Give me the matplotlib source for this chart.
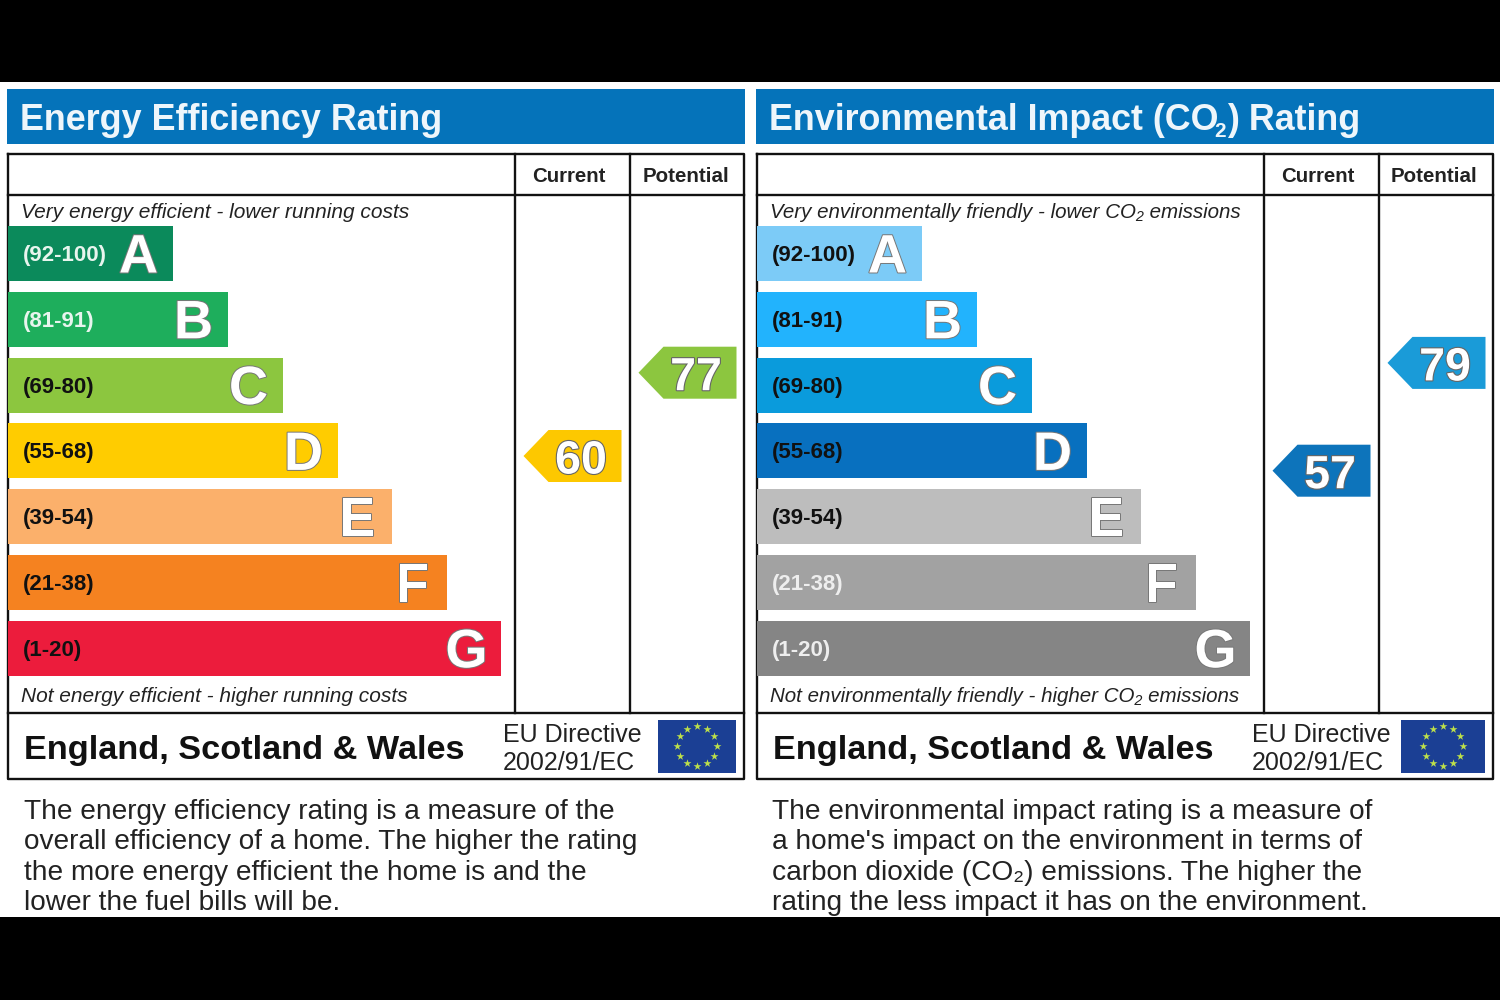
import matplotlib
matplotlib.use("Agg")
import matplotlib.pyplot as plt
import matplotlib.patheffects as pe
import numpy as np

plt.rcParams['font.family'] = ['Liberation Sans', 'DejaVu Sans']

# The values
band_letters = ['A', 'B', 'C', 'D', 'E', 'F', 'G']
band_ranges = ['(92-100)', '(81-91)', '(69-80)', '(55-68)', '(39-54)', '(21-38)', '(1-20)']
band_lengths = [165, 220, 275, 330, 384, 439, 493]

energy_colors = ['#0b8a5b', '#1eae5c', '#8cc63f', '#ffcc00', '#fbb06b', '#f58220', '#ec1c3c']
energy_range_colors = ['#e8f5ee', '#e8f5ee', '#111111', '#111111', '#111111', '#111111', '#111111']
impact_colors = ['#7ccbf7', '#22b3fd', '#0a9bdc', '#0870bf', '#bdbdbd', '#a2a2a2', '#858585']
impact_range_colors = ['#111111', '#111111', '#111111', '#111111', '#111111', '#eeeeee', '#eeeeee']

energy_current, energy_potential = 60, 77
impact_current, impact_potential = 57, 79
energy_current_color, energy_potential_color = '#fdc800', '#8cc63f'
impact_current_color, impact_potential_color = '#0d74bb', '#1a9bd8'

# the impact title is split so the small 2 can tuck in as it does on the label
energy_title = ['Energy Efficiency Rating']
impact_title = ['Environmental Impact (CO', '2', ') Rating']
energy_top = 'Very energy efficient - lower running costs'
energy_bottom = 'Not energy efficient - higher running costs'
impact_top = 'Very environmentally friendly - lower CO\u2082 emissions'
impact_bottom = 'Not environmentally friendly - higher CO\u2082 emissions'
energy_body = ['The energy efficiency rating is a measure of the',
               'overall efficiency of a home. The higher the rating',
               'the more energy efficient the home is and the',
               'lower the fuel bills will be.']
impact_body = ['The environmental impact rating is a measure of',
               "a home's impact on the environment in terms of",
               'carbon dioxide (CO\u2082) emissions. The higher the',
               'rating the less impact it has on the environment.']


def draw_arrow(ax, left, right, rating, color):
    # Rating arrow, the height on the panel comes from the rating itself
    y = 750 - 4.9 * rating
    xs = [left, left + 25, right, right, left + 25]
    ys = [y, y - 26, y - 26, y + 26, y + 26]
    ax.fill(xs, ys, color=color, lw=0, zorder=3)
    ax.text((left + 25 + right) / 2 - 4, y + 5.5, str(rating), color='white', fontsize=33.5,
            fontweight='bold', ha='center', va='center', zorder=4,
            path_effects=[pe.withStroke(linewidth=1.6, foreground='#666666')])


def draw_panel(ax, x0, title, top_text, bottom_text, note_size, colors, range_colors, current, potential,
               current_color, potential_color, body, body_x, flag_x, flag_w, directive_x):
    # x0 is the left edge of the panel box
    ax.fill_between([x0 - 1, x0 + 737], 89, 144, color='#0573ba', lw=0)
    ax.text(x0 + 12.5, 130, title[0], color='#eef6fb', fontsize=25.8, fontweight='bold', va='baseline')
    if len(title) > 1:
        ax.text(x0 + 458, 137, title[1], color='#eef6fb', fontsize=15, fontweight='bold', va='baseline')
        ax.text(x0 + 471, 130, title[2], color='#eef6fb', fontsize=25.8, fontweight='bold', va='baseline')

    # box and grid lines
    ax.plot([x0, x0 + 736, x0 + 736, x0, x0], [154, 154, 779, 779, 154], color='#111111', lw=1.7)
    ax.plot([x0, x0 + 736], [195, 195], color='#111111', lw=1.7)
    ax.plot([x0, x0 + 736], [713, 713], color='#111111', lw=1.7)
    ax.plot([x0 + 507, x0 + 507], [154, 713], color='#111111', lw=1.7)
    ax.plot([x0 + 622, x0 + 622], [154, 713], color='#111111', lw=1.7)
    ax.text(x0 + 561, 177, 'Current', fontsize=14.7, fontweight='bold', ha='center', va='center',
            color='#222222')
    ax.text(x0 + 678, 177, 'Potential', fontsize=14.8, fontweight='bold', ha='center', va='center',
            color='#222222')

    ax.text(x0 + 13.5, 213, top_text, fontsize=note_size, style='italic', va='center', color='#222222')
    ax.text(x0 + 13.5, 696, bottom_text, fontsize=note_size, style='italic', va='center', color='#222222')

    # bands
    positions = 253.5 + 65.8 * np.arange(len(band_lengths))
    ax.barh(positions, band_lengths, height=55, left=x0, color=colors, lw=0, zorder=2)
    for i in range(len(band_lengths)):
        ax.text(x0 + 15, positions[i] + 2, band_ranges[i], fontsize=16, fontweight='bold',
                va='center', color=range_colors[i], zorder=3)
        ax.text(x0 + band_lengths[i] - 34, positions[i] + 5, band_letters[i], fontsize=39,
                fontweight='bold', ha='center', va='center', color='white', zorder=3,
                path_effects=[pe.withStroke(linewidth=1.4, foreground='#777777')])

    # rating arrows
    draw_arrow(ax, x0 + 516, x0 + 614, current, current_color)
    draw_arrow(ax, x0 + 631, x0 + 729, potential, potential_color)

    # footer
    ax.text(x0 + 16.5, 751, 'England, Scotland & Wales', fontsize=24.7, fontweight='bold', va='center',
            color='#111111')
    ax.text(directive_x, 735, 'EU Directive', fontsize=18, va='center', color='#222222')
    ax.text(directive_x, 763, '2002/91/EC', fontsize=18, va='center', color='#222222')
    ax.fill_between([flag_x, flag_x + flag_w], 720, 773, color='#1b3f94', lw=0)
    angles = np.arange(12) * np.pi / 6
    ax.scatter(flag_x + flag_w / 2 + 20 * np.cos(angles), 746 + 20 * np.sin(angles), marker='*', s=36,
               color='#bde04a', lw=0, zorder=3)

    for i in range(len(body)):
        ax.text(body_x, 812 + 30.4 * i, body[i], fontsize=20.2, va='center', color='#222222')


fig = plt.figure(figsize=(15, 10), dpi=100, facecolor='black')
ax = fig.add_axes([0, 0, 1, 1])
ax.set_xlim(0, 1500)
ax.set_ylim(1000, 0)
ax.axis('off')

# white page between the black bands
ax.fill_between([0, 1500], 82, 917, color='white', lw=0, zorder=0)

draw_panel(ax, 7.5, energy_title, energy_top, energy_bottom, 15, energy_colors, energy_range_colors,
           energy_current, energy_potential, energy_current_color, energy_potential_color,
           energy_body, 24, 658, 78, 503)
draw_panel(ax, 756.5, impact_title, impact_top, impact_bottom, 14.8, impact_colors, impact_range_colors,
           impact_current, impact_potential, impact_current_color, impact_potential_color,
           impact_body, 772, 1401, 84, 1252)

fig.savefig('out.png', dpi=100, facecolor='black')
